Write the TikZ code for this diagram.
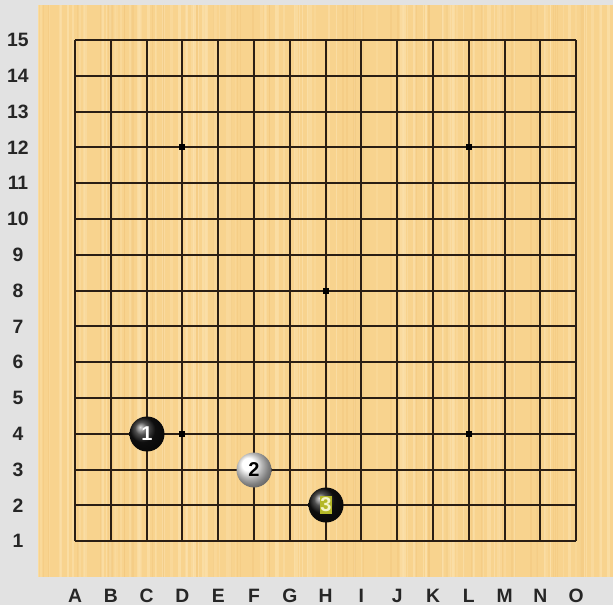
\documentclass[tikz,border=0pt]{standalone}
\usepackage{fontspec}
\setmainfont{Liberation Sans}
\usetikzlibrary{calc}
\definecolor{bggrey}{HTML}{E2E2E2}
\definecolor{wood}{HTML}{F8D38E}
\definecolor{woodlight}{HTML}{FCE2AE}
\definecolor{wooddark}{HTML}{F0C478}
\definecolor{gridcol}{HTML}{2A1E14}
\definecolor{labbox}{HTML}{B4B828}
\definecolor{labtext}{HTML}{F4F4C8}
\tikzset{
  gridline/.style={draw=gridcol, line width=1.3pt},
  coordlabel/.style={font=\fontsize{14.5}{14.5}\selectfont\bfseries, text=black!85, inner sep=0pt},
  starpt/.style={fill=black, minimum size=4pt, inner sep=0pt, draw=none, rectangle},
  stonenum/.style={font=\fontsize{15}{15}\selectfont\bfseries, inner sep=0pt},
}
\begin{document}
\begin{tikzpicture}[x=0.75pt,y=-0.75pt]
\useasboundingbox (0,0) rectangle (613,605);
\fill[bggrey] (0,0) rectangle (613,605);
% wood board
\fill[wood] (38,5) rectangle (613,577);
\pgfmathsetseed{7}
\foreach \i in {0,...,110}{
  \pgfmathsetmacro{\xx}{38+rnd*570}
  \pgfmathsetmacro{\ww}{0.8+rnd*2.5}
  \pgfmathsetmacro{\op}{0.25+rnd*0.45}
  \fill[woodlight, opacity=\op] (\xx,5) rectangle ({\xx+\ww},577);
}
\foreach \i in {0,...,50}{
  \pgfmathsetmacro{\xx}{38+rnd*570}
  \pgfmathsetmacro{\ww}{0.8+rnd*1.5}
  \fill[wooddark, opacity=0.35] (\xx,5) rectangle ({\xx+\ww},577);
}
% grid
\def\sp{35.8}
\foreach \k in {0,...,14}{
  \pgfmathsetmacro{\gx}{round(75+\k*\sp)}
  \pgfmathsetmacro{\gy}{round(541.2-\k*\sp)}
  \coordinate (v\k t) at (\gx,40);
  \coordinate (v\k b) at (\gx,541);
  \coordinate (h\k l) at (75,\gy);
  \coordinate (h\k r) at (576,\gy);
  \draw[gridline] (v\k t) -- (v\k b);
  \draw[gridline] (h\k l) -- (h\k r);
}
% star points
\foreach \c/\r [count=\n] in {3/3,3/11,11/3,11/11,7/7}{
  \node[starpt] (star\n) at ({round(75+\c*\sp)},{round(541.2-\r*\sp)}) {};
}
% row labels
\foreach \r in {1,...,15}{
  \node[coordlabel] (row\r) at (18,{541.2-(\r-1)*\sp}) {\r};
}
% column labels
\foreach \l [count=\c from 0] in {A,B,C,D,E,F,G,H,I,J,K,L,M,N,O}{
  \node[coordlabel] (col\l) at ({75+\c*\sp},596) {\l};
}
% stones
\coordinate (s1) at ({round(75+2*\sp)},{round(541.2-3*\sp)});
\coordinate (s2) at ({round(75+5*\sp)},{round(541.2-2*\sp)});
\coordinate (s3) at ({round(75+7*\sp)},{round(541.2-1*\sp)});
\shade[ball color=black!92] (s1) circle[radius=17.5];
\shade[ball color=white] (s2) circle[radius=17.5];
\shade[ball color=black!92] (s3) circle[radius=17.5];
\node[stonenum, text=white] (n1) at (s1) {1};
\node[stonenum, text=black] (n2) at (s2) {2};
\node[stonenum, text=labtext, fill=labbox, minimum width=9pt, minimum height=13.5pt, inner sep=0pt] (n3) at (s3) {3};
\end{tikzpicture}
\end{document}
